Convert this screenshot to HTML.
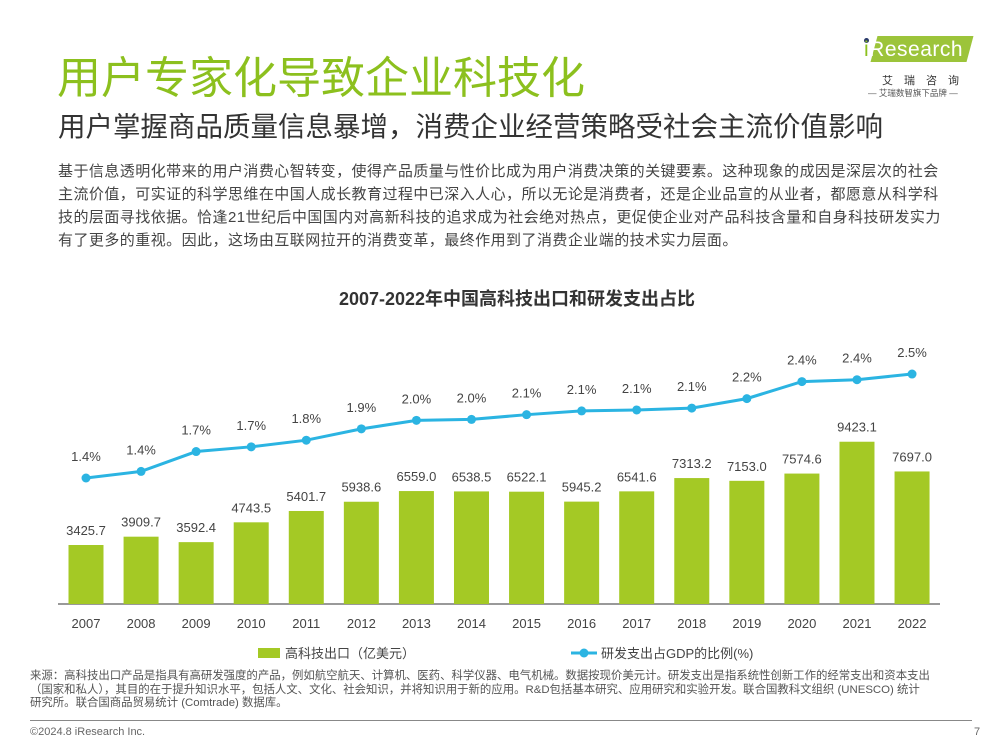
<!DOCTYPE html>
<html><head><meta charset="utf-8"><style>
body{margin:0;width:1000px;height:750px;background:#fff;font-family:"Liberation Sans","Noto Sans CJK SC",sans-serif;position:relative;overflow:hidden}
.a{position:absolute;white-space:nowrap}
</style></head><body>
<div class="a" style="left:57px;top:42px;font-size:44px;color:#8cc01e">用户专家化导致企业科技化</div>
<div class="a" style="left:58px;top:104px;font-size:27.5px;color:#333">用户掌握商品质量信息暴增，消费企业经营策略受社会主流价值影响</div>
<div class="a" style="left:58px;top:160px;font-size:15px;line-height:23px;color:#444;letter-spacing:0.45px">基于信息透明化带来的用户消费心智转变，使得产品质量与性价比成为用户消费决策的关键要素。这种现象的成因是深层次的社会<br>主流价值，可实证的科学思维在中国人成长教育过程中已深入人心，所以无论是消费者，还是企业品宣的从业者，都愿意从科学科<br>技的层面寻找依据。恰逢21世纪后中国国内对高新科技的追求成为社会绝对热点，更促使企业对产品科技含量和自身科技研发实力<br>有了更多的重视。因此，这场由互联网拉开的消费变革，最终作用到了消费企业端的技术实力层面。</div>
<div class="a" style="left:860px;top:34px;width:130px;height:62px">
<div class="a" style="left:14px;top:2px;width:96px;height:26px;background:#9cc43a;transform:skewX(-15deg)"></div>
<div class="a" style="left:4px;top:4px;width:5px;height:5px;border-radius:50%;background:#2a3a6a"></div>
<div class="a" style="left:4px;top:4px;font-size:21px;color:#fff;letter-spacing:0.5px"><span style="color:#8cc01e">i</span>Research</div>
<div class="a" style="left:22px;top:38px;font-size:11px;color:#333;letter-spacing:11px">艾瑞咨询</div>
<div class="a" style="left:8px;top:53px;font-size:8.5px;color:#555">— 艾瑞数智旗下品牌 —</div>
</div>
<div class="a" style="left:0;width:1034px;text-align:center;top:285px;font-size:18px;font-weight:bold;color:#333">2007-2022年中国高科技出口和研发支出占比</div>
<svg id="chart" class="a" style="left:0;top:0" width="1000" height="750"></svg>
<div class="a" style="left:30px;top:670px;font-size:11.4px;line-height:13.5px;color:#555">来源：高科技出口产品是指具有高研发强度的产品，例如航空航天、计算机、医药、科学仪器、电气机械。数据按现价美元计。研发支出是指系统性创新工作的经常支出和资本支出<br>（国家和私人），其目的在于提升知识水平，包括人文、文化、社会知识，并将知识用于新的应用。R&amp;D包括基本研究、应用研究和实验开发。联合国教科文组织 (UNESCO) 统计<br>研究所。联合国商品贸易统计 (Comtrade) 数据库。</div>
<div class="a" style="left:30px;top:720px;width:942px;height:1px;background:#888"></div>
<div class="a" style="left:30px;top:726px;font-size:11px;color:#666">©2024.8 iResearch Inc.</div>
<div class="a" style="left:974px;top:726px;font-size:11px;color:#666">7</div>
<script>
const years=["2007","2008","2009","2010","2011","2012","2013","2014","2015","2016","2017","2018","2019","2020","2021","2022"];
const exportsVal=[3425.7,3909.7,3592.4,4743.5,5401.7,5938.6,6559.0,6538.5,6522.1,5945.2,6541.6,7313.2,7153.0,7574.6,9423.1,7697.0];
const rdVal=[1.40,1.47,1.68,1.73,1.80,1.92,2.01,2.02,2.07,2.11,2.12,2.14,2.24,2.42,2.44,2.50];
const rdLabels=["1.4%","1.4%","1.7%","1.7%","1.8%","1.9%","2.0%","2.0%","2.1%","2.1%","2.1%","2.1%","2.2%","2.4%","2.4%","2.5%"];
const NS="http://www.w3.org/2000/svg",svg=document.getElementById('chart');
const x=i=>86+i*55.07, base=604, yb=v=>base-v*0.01722, yl=v=>478-(v-1.4)*94.5;
function mk(t,a){const e=document.createElementNS(NS,t);for(const k in a)e.setAttribute(k,a[k]);svg.appendChild(e);return e;}
const ax=mk('line',{x1:58,x2:940,y1:base,y2:base,stroke:'#333','stroke-width':1});


years.forEach((yr,i)=>{
 const b=mk('rect',{x:x(i)-17.5,y:yb(exportsVal[i]),width:35,height:base-yb(exportsVal[i]),fill:'#a4c925'});
 
 
 const bl=mk('text',{x:x(i),y:yb(exportsVal[i])-10,'text-anchor':'middle','font-size':13,fill:'#444'});bl.textContent=exportsVal[i].toFixed(1);
 
 
 const t=mk('text',{x:x(i),y:base+24,'text-anchor':'middle','font-size':13,fill:'#444'});t.textContent=yr;
 
 
});
const ln=mk('polyline',{points:rdVal.map((v,i)=>x(i)+','+yl(v)).join(' '),fill:'none',stroke:'#2bb4e2','stroke-width':3});


rdVal.forEach((v,i)=>{
 const c=mk('circle',{cx:x(i),cy:yl(v),r:4.5,fill:'#2bb4e2'});
 
 
 const t=mk('text',{x:x(i),y:yl(v)-17,'text-anchor':'middle','font-size':13,fill:'#444'});t.textContent=rdLabels[i];
 
 
});
const lg1=mk('rect',{x:258,y:648,width:22,height:10,fill:'#a4c925'});


const lt1=mk('text',{x:285,y:658,'font-size':13,fill:'#444'});lt1.textContent='高科技出口（亿美元）';


const lg2=mk('line',{x1:571,x2:597,y1:653,y2:653,stroke:'#2bb4e2','stroke-width':3});


const lg3=mk('circle',{cx:584,cy:653,r:4.5,fill:'#2bb4e2'});


const lt2=mk('text',{x:601,y:658,'font-size':13,fill:'#444'});lt2.textContent='研发支出占GDP的比例(%)';


</script>
</body></html>
